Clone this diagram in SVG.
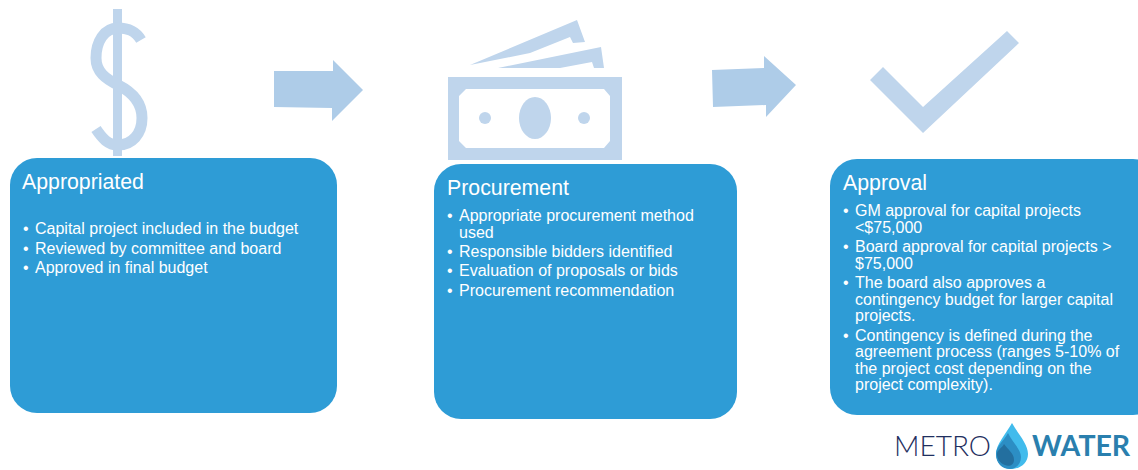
<svg xmlns="http://www.w3.org/2000/svg" width="1138" height="470" viewBox="0 0 1138 470">
<style>
.box{fill:#2e9cd6}
.icon{fill:#bfd5ec}
.arrow{fill:#aecce8}
text{font-family:"Liberation Sans",Arial,sans-serif;fill:#fff}
.t{font-size:21.3px}
.b{font-size:16px}
</style>
<rect width="1138" height="470" fill="#fff"/>
<g id="icon-dollar">
<rect class="icon" x="113" y="9" width="9" height="147"/>
<path d="M141 40C135 30 127 28 118 28C104 28 96 42 96 58C96 72 106 79 118 85C132 92 142 102 142 118C142 134 132 145 118 145C108 145 102 138 96 129" fill="none" stroke="#bfd5ec" stroke-width="11"/>
</g>
<g id="icon-money">
<polygon class="icon" points="470,65 577,20 585,42 573,43 570,37 530,53"/>
<polygon class="icon" points="498,68 601,47 604,68 594,68 592,62 560,68"/>
<path class="icon" fill-rule="evenodd" d="M448 77H622V160H448ZM466 89L459 96V141L466 148H604L610 141V96L604 89Z"/>
<ellipse class="icon" cx="535" cy="118" rx="16" ry="21"/>
<circle class="icon" cx="485" cy="118" r="6"/>
<circle class="icon" cx="584" cy="118" r="6"/>
</g>
<g id="icon-check">
<polygon class="icon" points="870,80 883,67 923,107 1007,31 1019,43 923,133"/>
</g>
<g id="connectors">
<polygon class="arrow" points="274,71 333,71 333,60 363,90 332,121 332,108 274,107"/>
<polygon class="arrow" points="712,70 764,68 764,56 796,85 766,117 766,105 713,107"/>
</g>
<g id="node-appropriated">
<rect class="box" x="10" y="158" width="327" height="255" rx="27"/>
<text class="t" x="22" y="189">Appropriated</text>
<g class="b">
<text x="23" y="234">•</text><text x="35" y="234">Capital project included in the budget</text>
<text x="23" y="254">•</text><text x="35" y="254">Reviewed by committee and board</text>
<text x="23" y="273">•</text><text x="35" y="273">Approved in final budget</text>
</g>
</g>
<g id="node-procurement">
<rect class="box" x="434" y="164" width="303" height="255" rx="27"/>
<text class="t" x="447" y="195">Procurement</text>
<g class="b">
<text x="447" y="221">•</text><text x="459" y="221">Appropriate procurement method</text>
<text x="459" y="238">used</text>
<text x="447" y="257">•</text><text x="459" y="257">Responsible bidders identified</text>
<text x="447" y="276">•</text><text x="459" y="276">Evaluation of proposals or bids</text>
<text x="447" y="296">•</text><text x="459" y="296">Procurement recommendation</text>
</g>
</g>
<g id="node-approval">
<rect class="box" x="830" y="159" width="330" height="256" rx="27"/>
<text class="t" x="843" y="190">Approval</text>
<g class="b">
<text x="843" y="216">•</text><text x="855" y="216">GM approval for capital projects</text>
<text x="855" y="233">&lt;$75,000</text>
<text x="843" y="252">•</text><text x="855" y="252">Board approval for capital projects &gt;</text>
<text x="855" y="269">$75,000</text>
<text x="843" y="288">•</text><text x="855" y="288">The board also approves a</text>
<text x="855" y="305">contingency budget for larger capital</text>
<text x="855" y="321">projects.</text>
<text x="843" y="341">•</text><text x="855" y="341">Contingency is defined during the</text>
<text x="855" y="357">agreement process (ranges 5-10% of</text>
<text x="855" y="374">the project cost depending on the</text>
<text x="855" y="390">project complexity).</text>
</g>
</g>
<g id="logo">
<text x="894" y="456" style="font-family:Lato,'Liberation Sans',sans-serif;font-size:28px;font-weight:300;fill:#1f2f60">METRO</text>
<path d="M1012 423C1018 434 1028 444 1028 454C1028 463 1020 469 1012 469C1003 469 996 463 996 454C996 444 1006 434 1012 423Z" fill="#41bbec"/>
<path d="M1008 433C1012 442 1021 449 1021 457C1021 464 1016 469 1010 469C1002 469 996 463 996 454C996 446 1004 441 1008 433Z" fill="#2c8ec4"/>
<path d="M1004 444C1008 450 1014 453 1014 460C1014 465 1009 467 1005 465C1000 463 997 459 997 454C997 450 1002 448 1004 444Z" fill="#236f9f"/>
<text x="1032" y="456" style="font-family:Lato,'Liberation Sans',sans-serif;font-size:28.5px;font-weight:700;fill:#2a7fae">WATER</text>
</g>
</svg>
